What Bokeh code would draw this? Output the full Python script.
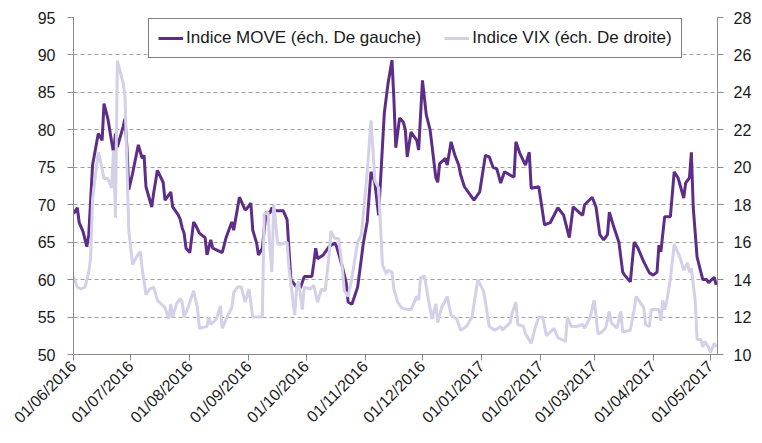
from math import pi
import pandas as pd
from bokeh.plotting import figure
from bokeh.models import (Range1d, LinearAxis, FixedTicker, DatetimeTickFormatter,
                          Legend, LegendItem, ColumnDataSource)
from bokeh.embed import file_html
from bokeh.resources import INLINE

# ---------------- data ----------------
move_dates = [
    "2016-06-01", "2016-06-03", "2016-06-04", "2016-06-06", "2016-06-08", "2016-06-09", "2016-06-11",
    "2016-06-14", "2016-06-16", "2016-06-17", "2016-06-19", "2016-06-21", "2016-06-22", "2016-06-23",
    "2016-06-24", "2016-06-27", "2016-06-28", "2016-06-29", "2016-06-30", "2016-07-02", "2016-07-05",
    "2016-07-07", "2016-07-08", "2016-07-09", "2016-07-12", "2016-07-13", "2016-07-15", "2016-07-18",
    "2016-07-19", "2016-07-21", "2016-07-22", "2016-07-23", "2016-07-26", "2016-07-27", "2016-07-28",
    "2016-07-29", "2016-07-30", "2016-08-01", "2016-08-03", "2016-08-04", "2016-08-06", "2016-08-09",
    "2016-08-10", "2016-08-12", "2016-08-13", "2016-08-18", "2016-08-20", "2016-08-23", "2016-08-24",
    "2016-08-27", "2016-08-30", "2016-08-31", "2016-09-02", "2016-09-03", "2016-09-05", "2016-09-06",
    "2016-09-08", "2016-09-10", "2016-09-12", "2016-09-13", "2016-09-15", "2016-09-19", "2016-09-21",
    "2016-09-23", "2016-09-26", "2016-09-28", "2016-09-30", "2016-10-04", "2016-10-05", "2016-10-06",
    "2016-10-07", "2016-10-10", "2016-10-13", "2016-10-16", "2016-10-17", "2016-10-20", "2016-10-22",
    "2016-10-23", "2016-10-25", "2016-10-28", "2016-10-30", "2016-10-31", "2016-11-02", "2016-11-04",
    "2016-11-06", "2016-11-08", "2016-11-11", "2016-11-13", "2016-11-15", "2016-11-16", "2016-11-17",
    "2016-11-19", "2016-11-21", "2016-11-22", "2016-11-23", "2016-11-25", "2016-11-28", "2016-11-29",
    "2016-12-01", "2016-12-03", "2016-12-05", "2016-12-08", "2016-12-09", "2016-12-10", "2016-12-13",
    "2016-12-14", "2016-12-16", "2016-12-18", "2016-12-20", "2016-12-21", "2016-12-23", "2016-12-28",
    "2016-12-31", "2017-01-03", "2017-01-05", "2017-01-07", "2017-01-09", "2017-01-11", "2017-01-13",
    "2017-01-17", "2017-01-18", "2017-01-19", "2017-01-21", "2017-01-24", "2017-01-26", "2017-01-27",
    "2017-01-31", "2017-02-03", "2017-02-06", "2017-02-10", "2017-02-13", "2017-02-16", "2017-02-18",
    "2017-02-21", "2017-02-23", "2017-02-24", "2017-02-28", "2017-03-02", "2017-03-04", "2017-03-06",
    "2017-03-08", "2017-03-09", "2017-03-11", "2017-03-14", "2017-03-16", "2017-03-17", "2017-03-20",
    "2017-03-22", "2017-03-24", "2017-03-27", "2017-03-30", "2017-04-01", "2017-04-03", "2017-04-04",
    "2017-04-05", "2017-04-07", "2017-04-10", "2017-04-12", "2017-04-14", "2017-04-17", "2017-04-18",
    "2017-04-20", "2017-04-21", "2017-04-22", "2017-04-24", "2017-04-27", "2017-04-29", "2017-04-30",
    "2017-05-03", "2017-05-04",
]
move_values = [
    68.8, 69.6, 67.6, 66.4, 64.4, 66.0, 75.3,
    79.5, 78.6, 83.5, 81.5, 78.4, 77.0, 79.5,
    77.7, 80.4, 81.5, 77.7, 72.0, 74.2, 78.0,
    76.2, 76.6, 72.4, 69.7, 71.5, 74.6, 73.0,
    70.6, 71.3, 71.7, 69.7, 68.6, 68.0, 66.9,
    66.2, 64.2, 63.6, 67.7, 67.3, 66.2, 65.6,
    63.3, 65.3, 64.2, 63.6, 65.6, 67.7, 66.6,
    71.0, 69.3, 69.5, 70.2, 66.6, 64.9, 63.3,
    64.2, 69.0, 68.9, 69.6, 69.2, 69.2, 68.0,
    60.0, 59.0, 58.9, 60.4, 60.4, 62.2, 64.2,
    62.8, 63.3, 64.4, 64.9, 64.4, 61.7, 59.6,
    57.0, 56.7, 59.0, 62.9, 64.9, 67.7, 74.4,
    73.0, 68.6, 82.3, 86.3, 89.3, 84.2, 77.6,
    81.6, 81.0, 80.0, 76.4, 79.7, 78.6, 77.3,
    86.6, 82.0, 80.0, 73.6, 73.0, 75.5, 76.2,
    75.3, 78.4, 76.6, 75.3, 74.0, 72.4, 70.6,
    71.7, 76.6, 76.4, 75.0, 74.8, 72.9, 74.4,
    73.8, 73.7, 78.4, 76.9, 75.3, 77.0, 72.2,
    72.4, 67.3, 67.6, 69.6, 68.6, 65.6, 69.7,
    69.0, 68.6, 70.0, 71.0, 69.7, 66.0, 65.3,
    66.0, 69.0, 67.3, 65.0, 61.0, 60.6, 59.7,
    65.0, 64.2, 62.4, 60.9, 60.6, 61.0, 64.6,
    63.7, 68.4, 68.4, 74.4, 73.6, 70.9, 72.9,
    73.6, 77.0, 69.6, 63.0, 60.0, 60.0, 59.6,
    60.3, 59.3,
]

vix_dates = [
    "2016-06-01", "2016-06-03", "2016-06-05", "2016-06-07", "2016-06-09", "2016-06-10", "2016-06-11",
    "2016-06-14", "2016-06-15", "2016-06-17", "2016-06-19", "2016-06-21", "2016-06-22", "2016-06-23",
    "2016-06-24", "2016-06-27", "2016-06-28", "2016-06-30", "2016-07-02", "2016-07-04", "2016-07-06",
    "2016-07-07", "2016-07-09", "2016-07-11", "2016-07-13", "2016-07-15", "2016-07-17", "2016-07-19",
    "2016-07-21", "2016-07-22", "2016-07-23", "2016-07-25", "2016-07-27", "2016-07-28", "2016-07-29",
    "2016-07-31", "2016-08-03", "2016-08-05", "2016-08-06", "2016-08-10", "2016-08-11", "2016-08-12",
    "2016-08-15", "2016-08-17", "2016-08-18", "2016-08-21", "2016-08-23", "2016-08-24", "2016-08-26",
    "2016-08-28", "2016-08-30", "2016-09-01", "2016-09-03", "2016-09-06", "2016-09-08", "2016-09-09",
    "2016-09-11", "2016-09-12", "2016-09-13", "2016-09-14", "2016-09-15", "2016-09-16", "2016-09-18",
    "2016-09-21", "2016-09-22", "2016-09-25", "2016-09-26", "2016-09-27", "2016-09-29", "2016-09-30",
    "2016-10-03", "2016-10-05", "2016-10-07", "2016-10-09", "2016-10-11", "2016-10-13", "2016-10-14",
    "2016-10-16", "2016-10-18", "2016-10-20", "2016-10-21", "2016-10-23", "2016-10-25", "2016-10-28",
    "2016-10-30", "2016-10-31", "2016-11-02", "2016-11-04", "2016-11-05", "2016-11-06", "2016-11-08",
    "2016-11-10", "2016-11-12", "2016-11-13", "2016-11-15", "2016-11-16", "2016-11-18", "2016-11-20",
    "2016-11-23", "2016-11-25", "2016-11-28", "2016-11-29", "2016-11-30", "2016-12-02", "2016-12-04",
    "2016-12-06", "2016-12-08", "2016-12-09", "2016-12-11", "2016-12-14", "2016-12-16", "2016-12-19",
    "2016-12-21", "2016-12-24", "2016-12-27", "2016-12-30", "2017-01-02", "2017-01-03", "2017-01-05",
    "2017-01-08", "2017-01-11", "2017-01-12", "2017-01-14", "2017-01-16", "2017-01-17", "2017-01-19",
    "2017-01-20", "2017-01-23", "2017-01-24", "2017-01-27", "2017-01-29", "2017-01-31", "2017-02-02",
    "2017-02-04", "2017-02-06", "2017-02-08", "2017-02-10", "2017-02-12", "2017-02-14", "2017-02-15",
    "2017-02-17", "2017-02-20", "2017-02-23", "2017-02-24", "2017-02-27", "2017-03-01", "2017-03-02",
    "2017-03-03", "2017-03-05", "2017-03-07", "2017-03-09", "2017-03-10", "2017-03-13", "2017-03-15",
    "2017-03-16", "2017-03-20", "2017-03-22", "2017-03-23", "2017-03-27", "2017-03-28", "2017-03-30",
    "2017-03-31", "2017-04-04", "2017-04-05", "2017-04-06", "2017-04-07", "2017-04-08", "2017-04-10",
    "2017-04-12", "2017-04-15", "2017-04-17", "2017-04-19", "2017-04-20", "2017-04-21", "2017-04-23",
    "2017-04-24", "2017-04-26", "2017-04-27", "2017-04-28", "2017-04-30", "2017-05-01", "2017-05-03",
    "2017-05-04",
]
vix_values = [
    14.2, 13.6, 13.5, 13.6, 14.4, 15.2, 18.3,
    20.8, 20.4, 19.4, 19.4, 18.9, 20.9, 17.3,
    25.7, 24.5, 23.8, 16.6, 14.8, 15.2, 15.5,
    14.6, 13.2, 13.5, 13.6, 12.9, 12.7, 12.5,
    11.9, 12.7, 12.0, 12.7, 13.0, 12.8, 12.0,
    12.5, 13.4, 12.5, 11.4, 11.5, 12.0, 11.6,
    11.9, 12.6, 11.4, 12.1, 12.5, 13.3, 13.6,
    13.6, 12.8, 13.5, 12.0, 12.0, 12.0, 17.5,
    17.6, 15.7, 14.4, 18.0, 17.1, 15.9, 15.9,
    16.0, 14.6, 12.1, 13.6, 13.9, 12.4, 13.6,
    13.5, 13.7, 12.8, 13.5, 13.4, 15.3, 16.6,
    16.2, 16.2, 14.6, 13.4, 13.1, 14.1, 16.0,
    16.4, 17.5, 19.7, 22.5, 21.0, 19.3, 18.9,
    14.8, 14.3, 14.5, 14.4, 13.5, 12.8, 12.5,
    12.4, 12.4, 13.1, 12.9, 14.1, 14.2, 13.0,
    11.9, 12.7, 11.7, 12.5, 13.1, 12.1, 11.9,
    11.3, 11.5, 12.0, 14.0, 13.4, 12.8, 11.5,
    11.3, 11.5, 11.3, 11.5, 11.7, 12.2, 12.8,
    11.6, 11.5, 11.1, 10.6, 11.4, 12.0, 12.0,
    11.0, 11.2, 11.4, 10.9, 10.8, 10.7, 12.0,
    11.5, 11.5, 11.6, 11.4, 12.0, 12.9, 12.1,
    11.1, 11.2, 11.4, 12.3, 11.7, 11.4, 12.3,
    11.2, 11.3, 12.4, 13.1, 12.5, 11.6, 11.5,
    12.4, 12.4, 11.8, 12.9, 12.4, 12.8, 14.0,
    15.9, 15.2, 14.5, 14.9, 14.4, 14.6, 12.9,
    10.8, 10.8, 10.4, 10.7, 10.4, 10.1, 10.6,
    10.4,
]

month_ticks = ["2016-06-01", "2016-07-01", "2016-08-01", "2016-09-01", "2016-10-01", "2016-11-01",
               "2016-12-01", "2017-01-01", "2017-02-01", "2017-03-01", "2017-04-01", "2017-05-01"]
left_ticks = [50, 55, 60, 65, 70, 75, 80, 85, 90, 95]
right_ticks = [10, 12, 14, 16, 18, 20, 22, 24, 26, 28]

series_names = ["Indice MOVE (éch. De gauche)", "Indice VIX (éch. De droite)"]

# ---------------- figure ----------------
FONT = "Liberation Sans"
AXIS_COLOR = "#8a8a8a"
TEXT_COLOR = "#1a1a1a"

move_src = ColumnDataSource(dict(date=pd.to_datetime(move_dates), value=move_values))
vix_src = ColumnDataSource(dict(date=pd.to_datetime(vix_dates), value=vix_values))

p = figure(width=754, height=435, x_axis_type="datetime",
           output_backend="svg", toolbar_location=None,
           x_range=Range1d(pd.Timestamp("2016-06-01"), pd.Timestamp("2017-05-04 17:00")),
           y_range=Range1d(left_ticks[0], left_ticks[-1]),
           min_border_left=73, min_border_right=33, min_border_top=17, min_border_bottom=80)
p.extra_y_ranges = {"vix": Range1d(right_ticks[0], right_ticks[-1])}
p.outline_line_color = None
p.background_fill_color = "white"
p.border_fill_color = "white"

r_move = p.line("date", "value", source=move_src, line_color="#5e2d87", line_width=3)
r_vix = p.line("date", "value", source=vix_src, line_color="#d3d0e8", line_width=3,
               y_range_name="vix")

# x axis
xax = p.xaxis[0]
xax.ticker = FixedTicker(ticks=[pd.Timestamp(d).value / 1e6 for d in month_ticks])
fmt = "%d/%m/%Y"
xax.formatter = DatetimeTickFormatter(milliseconds=fmt, seconds=fmt, minsec=fmt, minutes=fmt,
                                      hourmin=fmt, hours=fmt, days=fmt, months=fmt, years=fmt)
xax.major_label_orientation = pi / 4

# left axis
yax = p.yaxis[0]
yax.ticker = FixedTicker(ticks=left_ticks)

# right axis
rax = LinearAxis(y_range_name="vix", ticker=FixedTicker(ticks=right_ticks))
p.add_layout(rax, "right")

for ax in (xax, yax, rax):
    ax.axis_line_color = AXIS_COLOR
    ax.major_tick_line_color = AXIS_COLOR
    ax.major_tick_out = 6
    ax.major_tick_in = 0
    ax.minor_tick_line_color = None
    ax.major_label_text_font = FONT
    ax.major_label_text_font_size = "16px"
    ax.major_label_text_color = TEXT_COLOR
yax.major_label_standoff = 12
rax.major_label_standoff = 10
xax.major_label_standoff = 3

p.xgrid.visible = False
p.ygrid.ticker = FixedTicker(ticks=left_ticks)
p.ygrid.grid_line_color = "#a0a0a0"
p.ygrid.grid_line_dash = "4 3"
p.ygrid.grid_line_width = 1

legend = Legend(items=[LegendItem(label=series_names[0], renderers=[r_move]),
                       LegendItem(label=series_names[1], renderers=[r_vix])],
                orientation="horizontal", location=(75, 296),
                padding=9, spacing=23, glyph_width=25, glyph_height=20,
                label_standoff=3, margin=0,
                border_line_color="black", border_line_width=1,
                background_fill_color="white", background_fill_alpha=1,
                label_text_font=FONT, label_text_font_size="17px",
                label_text_color=TEXT_COLOR)
p.add_layout(legend, "center")

open("out.html", "w").write(file_html(p, INLINE))
